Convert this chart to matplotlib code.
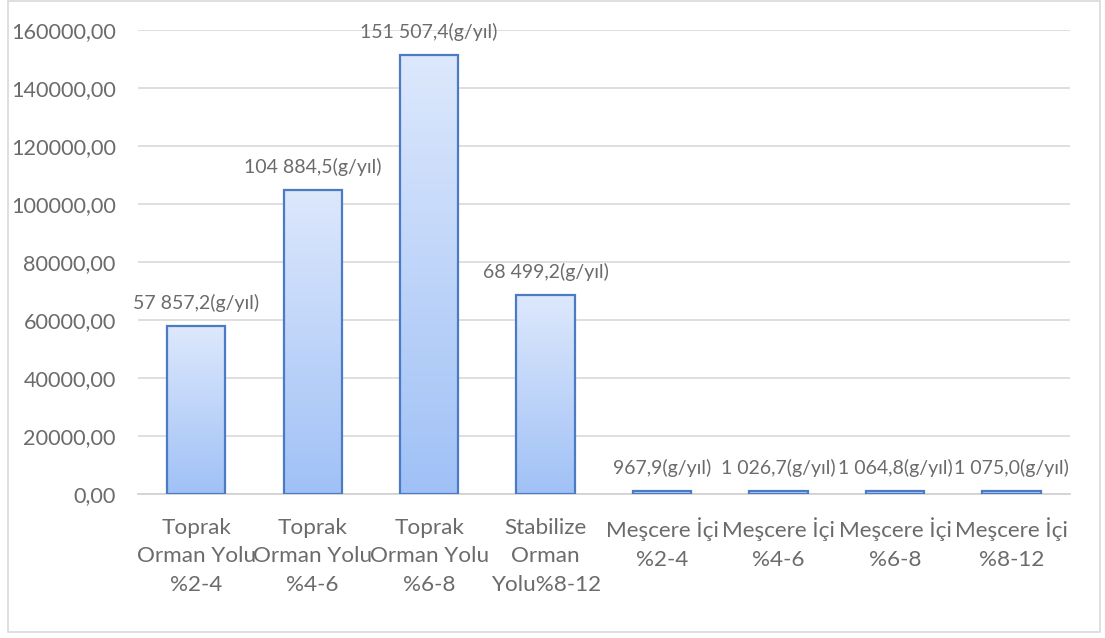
import matplotlib.pyplot as plt
import matplotlib.ticker as ticker
import matplotlib.patches as patches
import numpy as np

plt.rcParams['font.family'] = ['Lato', 'DejaVu Sans']

categories = ["Toprak\nOrman Yolu\n%2-4", "Toprak\nOrman Yolu\n%4-6", "Toprak\nOrman Yolu\n%6-8",
              "Stabilize\nOrman\nYolu%8-12", "Meşcere İçi\n%2-4", "Meşcere İçi\n%4-6",
              "Meşcere İçi\n%6-8", "Meşcere İçi\n%8-12"]
values = [57857.2, 104884.5, 151507.4, 68499.2, 967.9, 1026.7, 1064.8, 1075.0]
y_ticks = [0, 20000, 40000, 60000, 80000, 100000, 120000, 140000, 160000]

text_grey = "#6b6b6b"


def tr_number(v):
    # 57857.2 -> "57 857,2"
    s = f"{v:,.1f}"
    return s.replace(",", " ").replace(".", ",")


fig = plt.figure(figsize=(11.05, 6.38), dpi=100)
ax = fig.add_axes([0.1249, 0.2257, 0.8431, 0.7273])

# outer chart frame
fig.patches.append(patches.Rectangle((8 / 1105, 6 / 638), 1092 / 1105, 631 / 638,
                                     transform=fig.transFigure, fill=False,
                                     edgecolor="#d9d9d9", linewidth=1.2))

x = np.arange(len(values))
bars = ax.bar(x, values, width=0.5, facecolor="none", edgecolor="#4a7bc4", linewidth=1.6, zorder=3)

# vertical gradient fill, light at the top, stronger blue at the bottom
top_c = np.array([221, 232, 252]) / 255
bot_c = np.array([160, 193, 246]) / 255
t = np.linspace(0, 1, 256)[:, None]
grad = (top_c[None, :] * (1 - t) + bot_c[None, :] * t)[:, None, :]
for b in bars:
    x0, w, h = b.get_x(), b.get_width(), b.get_height()
    im = ax.imshow(grad, extent=[x0, x0 + w, 0, h], aspect="auto", origin="upper", zorder=2)
    im.set_clip_path(b)

for xi, v in zip(x, values):
    ax.annotate(f"{tr_number(v)}(g/yıl)", (xi, v), xytext=(0, 10), textcoords="offset points",
                ha="center", va="bottom", fontsize=14, color=text_grey)

ax.set_xlim(-0.5, len(values) - 0.5)
ax.set_ylim(0, 160000)
ax.set_yticks(y_ticks)
ax.yaxis.set_major_formatter(ticker.FuncFormatter(lambda v, p: f"{v:.2f}".replace(".", ",")))
ax.set_xticks(x)
ax.set_xticklabels(categories, linespacing=1.53)
ax.tick_params(axis="y", length=0, pad=16, labelsize=15.6, labelcolor=text_grey)
ax.tick_params(axis="x", length=0, pad=17, labelsize=16.2, labelcolor=text_grey)

ax.grid(axis="y", color="#d9d9d9", linewidth=1.2, zorder=0)
ax.set_axisbelow(True)
for side in ["top", "right", "left"]:
    ax.spines[side].set_visible(False)
ax.spines["bottom"].set_color("#d0d0d0")
ax.spines["bottom"].set_linewidth(1.2)

fig.savefig("out.png", dpi=100)
